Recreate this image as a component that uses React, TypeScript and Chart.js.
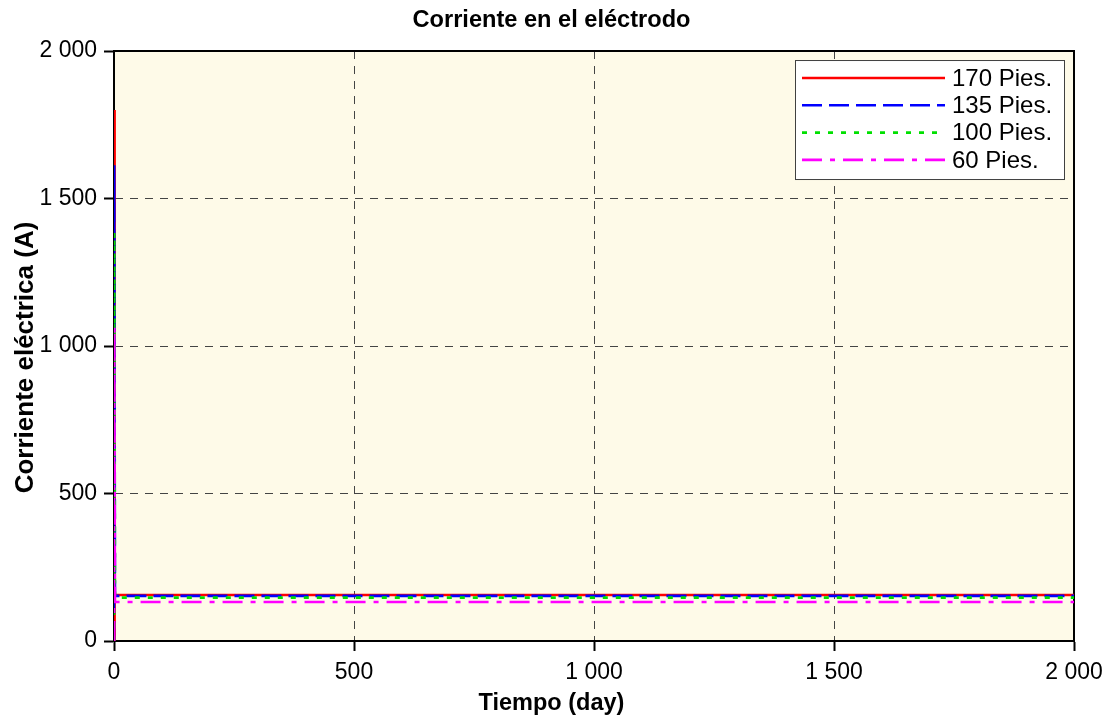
import { useEffect, useRef } from "react";
import { Chart, registerables } from "chart.js";

Chart.register(...registerables);

const FONT = "'Liberation Sans', Arial, Helvetica, sans-serif";

// Time axis (days) and electrode current (A) for each electrode depth
const timeDays = [0, 0.5, 2, 2000];
const current170 = [0, 1800, 156, 156];
const current135 = [0, 1613, 153, 153];
const current100 = [0, 1384, 147, 147];
const current60 = [0, 1065, 132, 132];

const seriesNames = ["170 Pies.", "135 Pies.", "100 Pies.", "60 Pies."];
const seriesValues = [current170, current135, current100, current60];
const seriesColors = ["#ff0000", "#0000ff", "#00e000", "#ff00ff"];
const seriesDashes: number[][] = [[], [20, 7], [5, 8], [20, 8, 5, 8]];

const xTicks = [0, 500, 1000, 1500, 2000];
const yTicks = [0, 500, 1000, 1500, 2000];

const chartTitle = "Corriente en el eléctrodo";
const xTitle = "Tiempo (day)";
const yTitle = "Corriente eléctrica (A)";

function fmt(v: number): string {
  if (Math.abs(v) < 1000) return String(v);
  const th = Math.floor(v / 1000);
  const rest = String(v % 1000).padStart(3, "0");
  return `${th} ${rest}`;
}

// Cream plot background and white page
const backgroundPlugin = {
  id: "plotBackground",
  beforeDraw(chart: any) {
    const { ctx, chartArea } = chart;
    ctx.save();
    ctx.fillStyle = "#ffffff";
    ctx.fillRect(0, 0, chart.width, chart.height);
    ctx.fillStyle = "#fefae8";
    ctx.fillRect(chartArea.left, chartArea.top, chartArea.right - chartArea.left, chartArea.bottom - chartArea.top);
    ctx.restore();
  },
};

// Top and right edges of the plot box
const framePlugin = {
  id: "plotFrame",
  beforeDatasetsDraw(chart: any) {
    const { ctx, chartArea } = chart;
    ctx.save();
    ctx.strokeStyle = "#000";
    ctx.lineWidth = 2;
    ctx.beginPath();
    ctx.moveTo(chartArea.left, chartArea.top);
    ctx.lineTo(chartArea.right, chartArea.top);
    ctx.lineTo(chartArea.right, chartArea.bottom);
    ctx.stroke();
    ctx.restore();
  },
};

// Legend box drawn inside the plot, top-right corner
const insideLegendPlugin = {
  id: "insideLegend",
  afterDatasetsDraw(chart: any) {
    const { ctx, chartArea } = chart;
    const w = 269;
    const h = 119;
    const x0 = chartArea.right - 10 - w;
    const y0 = chartArea.top + 9;
    ctx.save();
    ctx.fillStyle = "#ffffff";
    ctx.fillRect(x0, y0, w, h);
    ctx.strokeStyle = "#404040";
    ctx.lineWidth = 1;
    ctx.strokeRect(x0 + 0.5, y0 + 0.5, w, h);
    chart.data.datasets.forEach((ds: any, i: number) => {
      const y = y0 + 18 + i * 27.3;
      ctx.strokeStyle = ds.borderColor;
      ctx.lineWidth = ds.borderWidth;
      ctx.setLineDash(ds.borderDash || []);
      ctx.beginPath();
      ctx.moveTo(x0 + 7, y);
      ctx.lineTo(x0 + 150, y);
      ctx.stroke();
      ctx.setLineDash([]);
      ctx.fillStyle = "#000";
      ctx.font = `24px ${FONT}`;
      ctx.textAlign = "left";
      ctx.textBaseline = "middle";
      ctx.fillText(ds.label, x0 + 157, y + 1);
    });
    ctx.restore();
  },
};

// Axis titles centred on the figure
const axisTitlesPlugin = {
  id: "axisTitles",
  afterDraw(chart: any) {
    const { ctx } = chart;
    ctx.save();
    ctx.fillStyle = "#000";
    ctx.textAlign = "center";
    ctx.textBaseline = "middle";
    ctx.font = `bold 23.5px ${FONT}`;
    ctx.fillText(xTitle, chart.width / 2 - 6, 704);
    ctx.translate(26, chart.height / 2 - 1);
    ctx.rotate(-Math.PI / 2);
    ctx.font = `bold 26px ${FONT}`;
    ctx.fillText(yTitle, 0, 0);
    ctx.restore();
  },
};

export default function App() {
  const canvasRef = useRef<HTMLCanvasElement | null>(null);

  useEffect(() => {
    const canvas = canvasRef.current;
    if (!canvas) return;

    const datasets = seriesNames.map((name, i) => ({
      label: name,
      data: timeDays.map((t, k) => ({ x: t, y: seriesValues[i][k] })),
      borderColor: seriesColors[i],
      backgroundColor: seriesColors[i],
      borderWidth: 2.6,
      borderDash: seriesDashes[i],
      pointRadius: 0,
      showLine: true,
      fill: false,
      tension: 0,
      order: seriesNames.length - 1 - i,
    }));

    const tickFont = { family: FONT, size: 23 };

    const chart = new Chart(canvas, {
      type: "scatter",
      data: { datasets },
      plugins: [backgroundPlugin, framePlugin, insideLegendPlugin, axisTitlesPlugin],
      options: {
        animation: false,
        responsive: false,
        maintainAspectRatio: false,
        layout: { padding: { left: 29, right: 41, top: 0, bottom: 0 } },
        plugins: {
          legend: { display: false },
          tooltip: { enabled: false },
          title: {
            display: true,
            text: chartTitle,
            color: "#000",
            font: { family: FONT, size: 23.6, weight: "bold" },
            padding: { top: 6, bottom: 16.7 },
          },
        },
        scales: {
          x: {
            type: "linear",
            min: 0,
            max: 2000,
            afterFit: (s: any) => {
              s.height = 76;
            },
            afterBuildTicks: (s: any) => {
              s.ticks = xTicks.map((v) => ({ value: v }));
            },
            ticks: {
              color: "#000",
              font: tickFont,
              padding: 8,
              maxRotation: 0,
              autoSkip: false,
              callback: (v: any) => fmt(Number(v)),
            },
            grid: {
              color: "#444",
              lineWidth: 1,
              tickLength: 10,
              tickColor: "#000",
              tickWidth: 2,
            },
            border: { display: true, color: "#000", width: 2, dash: [8, 7] },
            title: { display: false },
          },
          y: {
            type: "linear",
            min: 0,
            max: 2000,
            afterFit: (s: any) => {
              s.width = 85;
            },
            afterBuildTicks: (s: any) => {
              s.ticks = yTicks.map((v) => ({ value: v }));
            },
            ticks: {
              color: "#000",
              font: tickFont,
              padding: 7,
              autoSkip: false,
              callback: (v: any) => fmt(Number(v)),
            },
            grid: {
              color: "#444",
              lineWidth: 1,
              tickLength: 10,
              tickColor: "#000",
              tickWidth: 2,
            },
            border: { display: true, color: "#000", width: 2, dash: [8, 7] },
            title: { display: false },
          },
        },
      } as any,
    });

    return () => {
      chart.destroy();
    };
  }, []);

  return (
    <div style={{ position: "fixed", left: 0, top: 0, width: 1115, height: 717, background: "#fff" }}>
      <canvas ref={canvasRef} width={1115} height={717} style={{ width: 1115, height: 717, display: "block" }} />
    </div>
  );
}
